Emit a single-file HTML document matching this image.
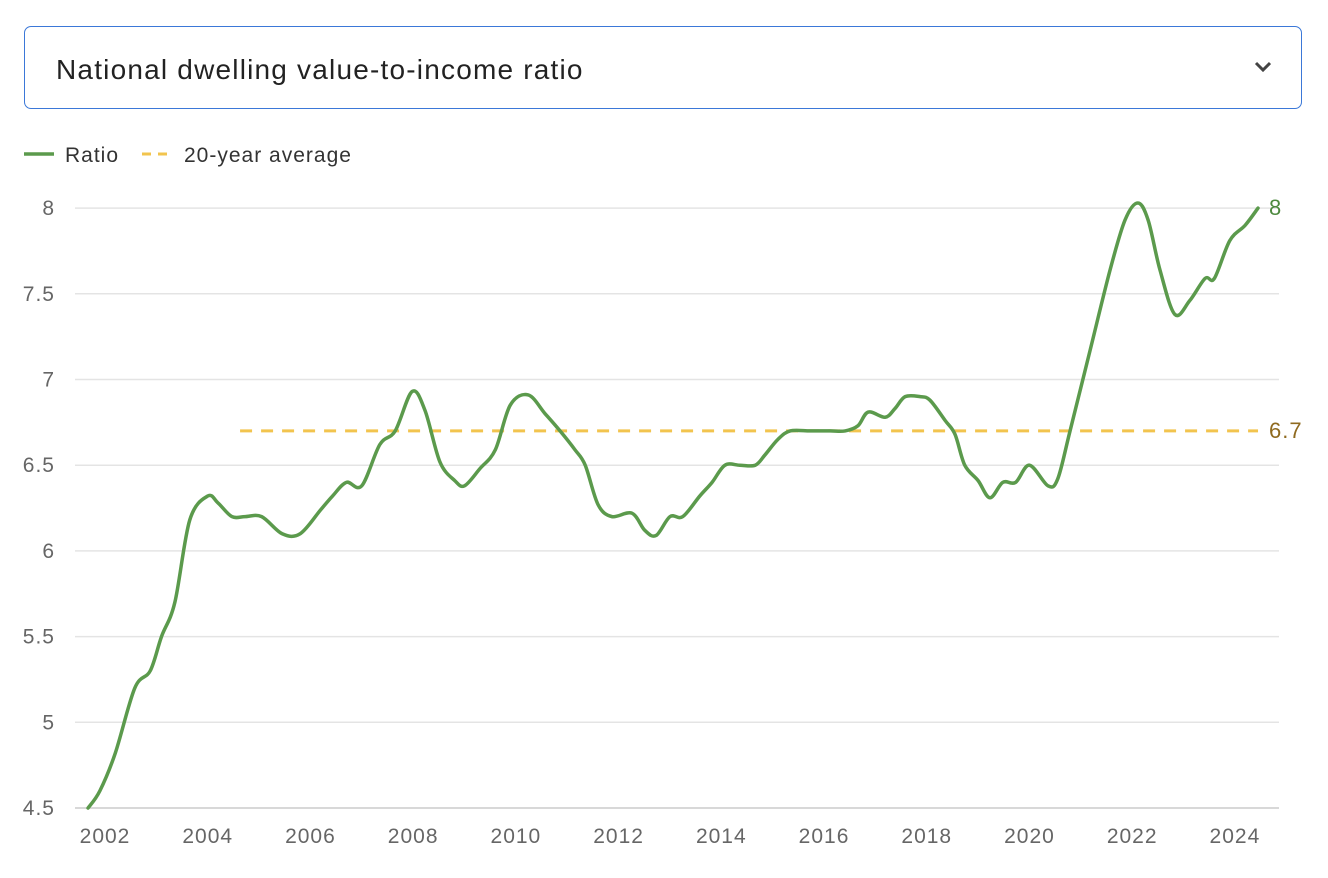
<!DOCTYPE html>
<html><head><meta charset="utf-8"><style>
body{margin:0;background:#fff;font-family:"Liberation Sans",sans-serif;}
#wrap{position:relative;width:1328px;height:878px;overflow:hidden}
#dd{position:absolute;left:24px;top:26px;width:1278px;height:83px;border:1.5px solid #3b78d8;border-radius:7px;box-sizing:border-box;}
#dd span{position:absolute;left:31px;top:27px;font-size:28px;letter-spacing:1.2px;color:#222}
text{letter-spacing:1px}
</style></head><body>
<div id="wrap">
<div id="dd"><span>National dwelling value-to-income ratio</span>
<svg style="position:absolute;left:1228px;top:33px" width="20" height="14"><path d="M3 3 L10 10 L17 3" fill="none" stroke="#444" stroke-width="3"/></svg></div>
<svg id="c" width="1328" height="878" style="position:absolute;left:0;top:0;pointer-events:none"></svg>
</div>
<script>
const years=[2001.67,2001.9,2002.2,2002.58,2002.88,2003.1,2003.36,2003.65,2004.0,2004.2,2004.47,2004.73,2005.05,2005.45,2005.8,2006.2,2006.43,2006.7,2007.0,2007.35,2007.65,2007.98,2008.23,2008.52,2008.81,2009.0,2009.3,2009.6,2009.89,2010.24,2010.57,2010.86,2011.15,2011.35,2011.6,2011.87,2012.26,2012.51,2012.73,2013.0,2013.25,2013.58,2013.82,2014.07,2014.36,2014.66,2014.85,2015.1,2015.34,2015.73,2016.12,2016.41,2016.66,2016.86,2017.19,2017.38,2017.58,2017.87,2018.06,2018.36,2018.55,2018.74,2019.0,2019.23,2019.48,2019.73,2020.0,2020.36,2020.55,2020.79,2021.18,2021.57,2021.86,2022.11,2022.31,2022.54,2022.83,2023.12,2023.42,2023.6,2023.9,2024.2,2024.45];
const ratio=[4.5,4.6,4.82,5.2,5.3,5.5,5.7,6.18,6.32,6.28,6.2,6.2,6.2,6.1,6.1,6.24,6.32,6.4,6.38,6.62,6.7,6.93,6.82,6.52,6.41,6.38,6.48,6.59,6.85,6.91,6.8,6.7,6.59,6.5,6.27,6.2,6.22,6.12,6.09,6.2,6.2,6.32,6.4,6.5,6.5,6.5,6.56,6.65,6.7,6.7,6.7,6.7,6.73,6.81,6.78,6.83,6.9,6.9,6.88,6.76,6.68,6.5,6.41,6.31,6.4,6.4,6.5,6.38,6.42,6.7,7.17,7.64,7.93,8.03,7.93,7.64,7.38,7.46,7.59,7.59,7.81,7.9,8.0];
const avgValue=6.7, avgStart=2004.63, avgEnd=2024.45;
const yTicks=[4.5,5,5.5,6,6.5,7,7.5,8];
const xTicks=[2002,2004,2006,2008,2010,2012,2014,2016,2018,2020,2022,2024];
const NS="http://www.w3.org/2000/svg",svg=document.getElementById('c');
const X=y=>105+(y-2002)*51.36, Y=v=>808-(v-4.5)*171.4;
function mk(t,a,p){const e=document.createElementNS(NS,t);for(const k in a)e.setAttribute(k,a[k]);(p||svg).appendChild(e);return e;}
yTicks.forEach(v=>{
 const g=mk('line',{x1:75,x2:1279,y1:Y(v),y2:Y(v),stroke:v==4.5?'#ccc':'#e4e4e4','stroke-width':1.5});
 
 const t=mk('text',{x:55,y:Y(v)+7,'text-anchor':'end','font-size':21,fill:'#666'});t.textContent=v;
 
});
xTicks.forEach(y=>{
 const t=mk('text',{x:X(y),y:843,'text-anchor':'middle','font-size':21,fill:'#666'});t.textContent=y;
 
});
const al=mk('line',{x1:X(avgStart),x2:X(avgEnd),y1:Y(avgValue),y2:Y(avgValue),stroke:'#f2c44e','stroke-width':3,'stroke-dasharray':'12 9'});

const pts=years.map((y,i)=>[X(y),Y(ratio[i])]);
let d='M'+pts[0][0]+' '+pts[0][1];
for(let i=0;i<pts.length-1;i++){const p0=pts[i-1]||pts[i],p1=pts[i],p2=pts[i+1],p3=pts[i+2]||p2;
 d+=` C${p1[0]+(p2[0]-p0[0])/6} ${p1[1]+(p2[1]-p0[1])/6} ${p2[0]-(p3[0]-p1[0])/6} ${p2[1]-(p3[1]-p1[1])/6} ${p2[0]} ${p2[1]}`;}
const rl=mk('path',{d:d,fill:'none',stroke:'#5b9a4c','stroke-width':3.5,'stroke-linejoin':'round','stroke-linecap':'round'});

const last=pts[pts.length-1];
const l1=mk('text',{x:last[0]+11,y:last[1]+7,'font-size':22,fill:'#4e8a3f'});l1.textContent=ratio[ratio.length-1];

const l2=mk('text',{x:X(avgEnd)+11,y:Y(avgValue)+7,'font-size':22,fill:'#8f6a1f'});l2.textContent=avgValue;

const lg=mk('g',{});
const e1=mk('g',{},lg);
mk('line',{x1:24,x2:54,y1:154,y2:154,stroke:'#5b9a4c','stroke-width':3.5},e1);
const t1=mk('text',{x:65,y:162,'font-size':21,fill:'#333'},e1);t1.textContent='Ratio';
const e2=mk('g',{},lg);
mk('line',{x1:142,x2:174,y1:154,y2:154,stroke:'#f2c44e','stroke-width':3,'stroke-dasharray':'9 7'},e2);
const t2=mk('text',{x:184,y:162,'font-size':21,fill:'#333'},e2);t2.textContent='20-year average';
</script></body></html>
